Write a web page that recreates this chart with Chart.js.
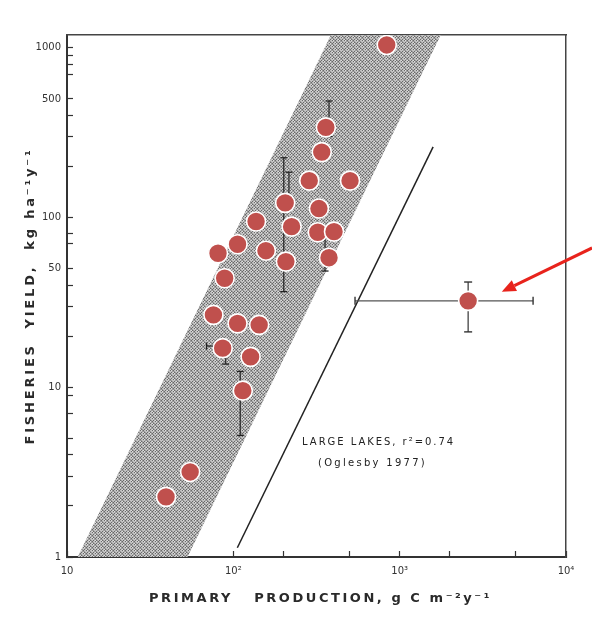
<!DOCTYPE html>
<html>
<head>
<meta charset="utf-8">
<script src="https://cdn.jsdelivr.net/npm/chart.js@4.4.0/dist/chart.umd.min.js"></script>
<style>
  html, body { margin: 0; padding: 0; background: #fff; }
  #wrap { width: 592px; height: 617px; position: relative; }
</style>
</head>
<body>
<div id="wrap"><canvas id="graph"></canvas></div>
<script>
// lakes: primary production (g C m-2 y-1) vs fisheries yield (kg ha-1 y-1)
var production = [836, 360, 340, 286, 503, 205, 327, 137, 224, 322, 403, 106, 80.9, 157, 207, 376, 88.7, 75.9, 106, 143, 86.3, 127, 114, 55, 39.4];
var fishYield = [1040, 340, 243, 165, 165, 122, 113, 94.8, 88.4, 81.9, 82.6, 69.6, 61.6, 63.8, 55.0, 58.0, 43.9, 26.7, 23.8, 23.3, 17.0, 15.1, 9.55, 3.17, 2.26];

// the large lake marked by the arrow, with its ranges
var bigLakeX = [2580];
var bigLakeY = [32.3];
var bigLakeXRange = [539, 6340];
var bigLakeYRange = [21.2, 41.7];

// other error bars: [x, low, high] and [y, low, high]
var yErrBars = [[376, 300, 486], [201, 36.6, 225], [216, 120, 185], [110, 5.2, 12.4], [356, 48.4, 80], [90, 13.7, 17]];
var xErrBars = [[17.5, 69, 86]];

// large lakes regression (Oglesby 1977)
var lakeLineX = [105.7, 1589];
var lakeLineY = [1.134, 261];

// shaded band corners
var bandX = [11.6, 386, 1765, 53, 11.6];
var bandY = [1, 1190, 1190, 1, 1];

// axes
var yTickMarks = [1, 2, 3, 4, 5, 7, 9, 10, 20, 30, 40, 50, 70, 80, 100, 200, 300, 400, 500, 700, 800, 900, 1000];
var yTickLabels = [1, 10, 50, 100, 500, 1000];
var xTickMarks = [10, 20, 50, 100, 200, 500, 1000, 2000, 5000, 10000];
var xTickLabels = { 10: '10', 100: '10²', 1000: '10³', 10000: '10⁴' };

var xTitle = 'PRIMARY   PRODUCTION, g C m⁻²y⁻¹';
var yTitle = 'FISHERIES  YIELD,  kg ha⁻¹y⁻¹';

var noteLines = ['LARGE LAKES, r²=0.74', '(Oglesby 1977)'];
var noteX = [259, 323];
var noteY = [4.76, 3.58];

var arrowX = [14350, 4110];
var arrowY = [66.2, 36.6];

function pts(xs, ys) {
  return xs.map(function (x, i) { return { x: x, y: ys[i] }; });
}

// grainy halftone look for the band (fixed tile, no randomness)
function bandPattern() {
  var n = 12;
  var c = document.createElement('canvas');
  c.width = n; c.height = n;
  var g = c.getContext('2d');
  g.fillStyle = '#c2c2c2';
  g.fillRect(0, 0, n, n);
  for (var i = 0; i < n; i++) {
    for (var j = 0; j < n; j++) {
      var k = (i * 7 + j * 5 + ((i * j) % 3)) % 6;
      if (k === 0 || k === 3) { g.fillStyle = '#6a6a6a'; g.fillRect(i, j, 1, 1); }
      else if (k === 1) { g.fillStyle = '#9a9a9a'; g.fillRect(i, j, 1, 1); }
      else if (k === 5) { g.fillStyle = '#dedede'; g.fillRect(i, j, 1, 1); }
    }
  }
  return g.createPattern(c, 'repeat');
}

var barSets = [];
yErrBars.forEach(function (b) {
  barSets.push({
    type: 'line', data: [{ x: b[0], y: b[1] }, { x: b[0], y: b[2] }],
    borderColor: '#222', borderWidth: 1.2, pointStyle: 'line', pointRadius: 3.5,
    pointBorderColor: '#222', pointBorderWidth: 1.3, fill: false, order: 1
  });
});
xErrBars.forEach(function (b) {
  barSets.push({
    type: 'line', data: [{ x: b[1], y: b[0] }, { x: b[2], y: b[0] }],
    borderColor: '#222', borderWidth: 1.2, pointStyle: 'line', pointRotation: 90, pointRadius: 3.5,
    pointBorderColor: '#222', pointBorderWidth: 1.3, fill: false, order: 1
  });
});
barSets.push({
  type: 'line', data: [{ x: bigLakeX[0], y: bigLakeYRange[0] }, { x: bigLakeX[0], y: bigLakeYRange[1] }],
  borderColor: '#333', borderWidth: 1.2, pointStyle: 'line', pointRadius: 4,
  pointBorderColor: '#333', pointBorderWidth: 1.4, fill: false, order: 1
});
barSets.push({
  type: 'line', data: [{ x: bigLakeXRange[0], y: bigLakeY[0] }, { x: bigLakeXRange[1], y: bigLakeY[0] }],
  borderColor: '#555', borderWidth: 1.3, pointStyle: 'line', pointRotation: 90, pointRadius: 4,
  pointBorderColor: '#333', pointBorderWidth: 1.4, fill: false, order: 1
});

function spaced(ctx, text, x, y, width) {
  ctx.letterSpacing = '0px';
  var w = ctx.measureText(text).width;
  var n = Array.from(text).length;
  ctx.letterSpacing = ((width - w) / n) + 'px';
  ctx.fillText(text, x, y);
  ctx.letterSpacing = '0px';
}

var extras = {
  id: 'extras',
  afterDatasetsDraw: function (chart) {
    var ctx = chart.ctx, xs = chart.scales.x, ys = chart.scales.y;
    // arrow
    var x0 = xs.getPixelForValue(arrowX[0]), y0 = ys.getPixelForValue(arrowY[0]);
    var x1 = xs.getPixelForValue(arrowX[1]), y1 = ys.getPixelForValue(arrowY[1]);
    var a = Math.atan2(y1 - y0, x1 - x0);
    var hl = 14, hw = 6;
    var bx = x1 - hl * Math.cos(a), by = y1 - hl * Math.sin(a);
    ctx.save();
    ctx.strokeStyle = '#e8231c';
    ctx.fillStyle = '#e8231c';
    ctx.lineWidth = 3;
    ctx.beginPath();
    ctx.moveTo(x0, y0);
    ctx.lineTo(bx, by);
    ctx.stroke();
    ctx.beginPath();
    ctx.moveTo(x1, y1);
    ctx.lineTo(bx + hw * Math.sin(a), by - hw * Math.cos(a));
    ctx.lineTo(bx - hw * Math.sin(a), by + hw * Math.cos(a));
    ctx.closePath();
    ctx.fill();
    // note text
    ctx.fillStyle = '#222';
    ctx.font = '10px "DejaVu Sans"';
    ctx.textAlign = 'left';
    ctx.textBaseline = 'middle';
    spaced(ctx, noteLines[0], xs.getPixelForValue(noteX[0]), ys.getPixelForValue(noteY[0]), 153);
    spaced(ctx, noteLines[1], xs.getPixelForValue(noteX[1]), ys.getPixelForValue(noteY[1]), 109);
    ctx.restore();
  },
  afterDraw: function (chart) {
    var ctx = chart.ctx, area = chart.chartArea;
    ctx.save();
    ctx.fillStyle = '#2a2a2a';
    ctx.font = 'bold 13px "DejaVu Sans"';
    ctx.textAlign = 'center';
    ctx.textBaseline = 'middle';
    spaced(ctx, xTitle, (area.left + area.right) / 2 + 4, 599, 343);
    ctx.translate(31, (area.top + area.bottom) / 2);
    ctx.rotate(-Math.PI / 2);
    spaced(ctx, yTitle, 0, 0, 297);
    ctx.restore();
  }
};

var tickFont = { family: 'DejaVu Sans', size: 10 };

var chart = new Chart(document.querySelector('#graph').getContext('2d'), {
  type: 'scatter',
  data: {
    datasets: [{
      data: pts(production, fishYield),
      backgroundColor: '#c0504d', borderColor: '#ffffff', borderWidth: 1.6,
      pointRadius: 9.5, order: 0
    }, {
      data: pts(bigLakeX, bigLakeY),
      backgroundColor: '#c0504d', borderColor: '#ffffff', borderWidth: 1.6,
      pointRadius: 9.5, order: 0
    }].concat(barSets).concat([{
      type: 'line', data: pts(lakeLineX, lakeLineY),
      borderColor: '#222', borderWidth: 1.5, pointRadius: 0, fill: false, order: 2
    }, {
      type: 'line', data: pts(bandX, bandY),
      borderWidth: 0, pointRadius: 0, backgroundColor: bandPattern(), fill: 'shape', order: 3
    }])
  },
  options: {
    responsive: true,
    maintainAspectRatio: false,
    animation: false,
    events: [],
    layout: { padding: 0 },
    plugins: {
      legend: { display: false },
      tooltip: { enabled: false }
    },
    scales: {
      x: {
        type: 'logarithmic', position: 'bottom', min: 10, max: 10000,
        afterBuildTicks: function (s) { s.ticks = xTickMarks.map(function (v) { return { value: v }; }); },
        ticks: {
          autoSkip: false, maxRotation: 0, padding: 14, font: tickFont, color: '#333',
          callback: function (v) { return xTickLabels[v] || ''; }
        },
        grid: { drawOnChartArea: false, tickLength: -6, tickColor: '#333', tickWidth: 1.2 },
        border: { color: '#333', width: 2 },
        afterFit: function (s) { s.height = 60; }
      },
      y: {
        type: 'logarithmic', position: 'left', min: 1, max: 1190,
        afterBuildTicks: function (s) { s.ticks = yTickMarks.map(function (v) { return { value: v }; }); },
        ticks: {
          autoSkip: false, padding: 12, font: tickFont, color: '#333',
          callback: function (v) { return yTickLabels.indexOf(v) >= 0 ? String(v) : ''; }
        },
        grid: { drawOnChartArea: false, tickLength: -6, tickColor: '#333', tickWidth: 1.2 },
        border: { color: '#333', width: 2 },
        afterFit: function (s) { s.width = 67; }
      },
      x2: {
        type: 'logarithmic', position: 'top', min: 10, max: 10000,
        ticks: { display: false },
        grid: { display: false, drawTicks: false },
        border: { color: '#444', width: 1.5 },
        afterFit: function (s) { s.height = 35; }
      },
      y2: {
        type: 'logarithmic', position: 'right', min: 1, max: 1190,
        ticks: { display: false },
        grid: { display: false, drawTicks: false },
        border: { color: '#444', width: 1.5 },
        afterFit: function (s) { s.width = 26; }
      }
    }
  },
  plugins: [extras]
});
</script>
</body>
</html>
